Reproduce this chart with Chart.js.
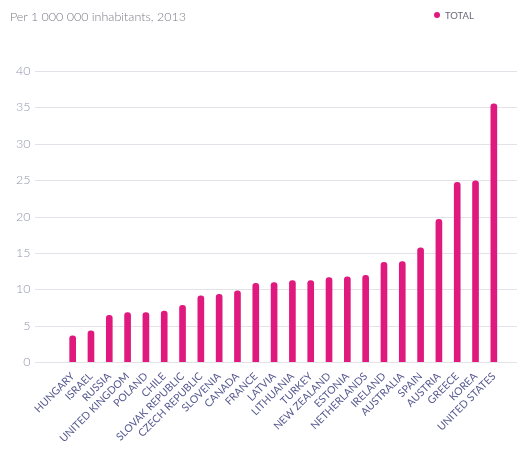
<!DOCTYPE html>
<html>
<head>
<meta charset="utf-8">
<script src="https://cdn.jsdelivr.net/npm/chart.js@4"></script>
<style>
	html, body { margin: 0; padding: 0; background: #fff; }
	#wrap { position: relative; width: 517px; height: 449px; }
	#title { position: absolute; left: 10px; top: 9px; font: 300 12.5px Lato, sans-serif; color: #7a7a85; }
	#legend { position: absolute; left: 434px; top: 10px; font: 9.5px Lato, sans-serif; color: #6a6a7a; }
	#legend span.dot { display: inline-block; width: 6px; height: 6px; border-radius: 50%; background: #e0197f; margin-right: 5px; vertical-align: 1px; }
</style>
</head>
<body>
<div id="wrap">
	<canvas id="chart" width="517" height="449"></canvas>
	<div id="title">Per 1 000 000 inhabitants, 2013</div>
	<div id="legend"><span class="dot"></span>TOTAL</div>
</div>
<script>
var countries = ["HUNGARY", "ISRAEL", "RUSSIA", "UNITED KINGDOM", "POLAND", "CHILE",
	"SLOVAK REPUBLIC", "CZECH REPUBLIC", "SLOVENIA", "CANADA", "FRANCE", "LATVIA",
	"LITHUANIA", "TURKEY", "NEW ZEALAND", "ESTONIA", "NETHERLANDS", "IRELAND",
	"AUSTRALIA", "SPAIN", "AUSTRIA", "GREECE", "KOREA", "UNITED STATES"];
var totals = [3.6, 4.3, 6.4, 6.8, 6.8, 7.0, 7.8, 9.1, 9.3, 9.8, 10.8, 10.9,
	11.2, 11.2, 11.6, 11.7, 11.9, 13.7, 13.8, 15.7, 19.6, 24.7, 24.9, 35.5];
var yTicks = [0, 5, 10, 15, 20, 25, 30, 35, 40];

// horizontal grid lines run wider than the bars
var wideGrid = {
	id: "wideGrid",
	beforeDatasetsDraw: function(chart) {
		var ctx = chart.ctx;
		var y = chart.scales.y;
		ctx.save();
		ctx.strokeStyle = "#e2e2e8";
		ctx.lineWidth = 1;
		yTicks.forEach(function(v) {
			var py = Math.round(y.getPixelForValue(v)) + 0.5;
			ctx.beginPath();
			ctx.moveTo(35, py);
			ctx.lineTo(517, py);
			ctx.stroke();
		});
		ctx.restore();
	}
};

new Chart(document.getElementById("chart").getContext("2d"), {
	type: "bar",
	data: {
		labels: countries,
		datasets: [{
			label: "TOTAL",
			data: totals,
			backgroundColor: "#e0197f",
			barThickness: 6,
			borderRadius: { topLeft: 3, topRight: 3 },
			borderSkipped: "start"
		}]
	},
	options: {
		responsive: false,
		animation: false,
		layout: { padding: { top: 71, right: 14, left: 0, bottom: 0 } },
		plugins: {
			legend: { display: false },
			tooltip: { enabled: false }
		},
		scales: {
			x: {
				grid: { display: false },
				border: { display: false },
				afterFit: function(s) { s.height = 87; },
				ticks: {
					autoSkip: false,
					maxRotation: 45,
					minRotation: 45,
					padding: 0,
					color: "#56598f",
					font: { family: "Lato", size: 10.5 }
				}
			},
			y: {
				min: 0,
				max: 40,
				afterFit: function(s) { s.width = 63.5; },
				afterBuildTicks: function(s) {
					s.ticks = yTicks.map(function(v) { return { value: v }; });
				},
				grid: { display: false, drawTicks: false },
				border: { display: false },
				ticks: {
					padding: 33,
					color: "#9294ad",
					font: { family: "Lato", size: 12.5, weight: 300 }
				}
			}
		}
	},
	plugins: [wideGrid]
});
</script>
</body>
</html>
